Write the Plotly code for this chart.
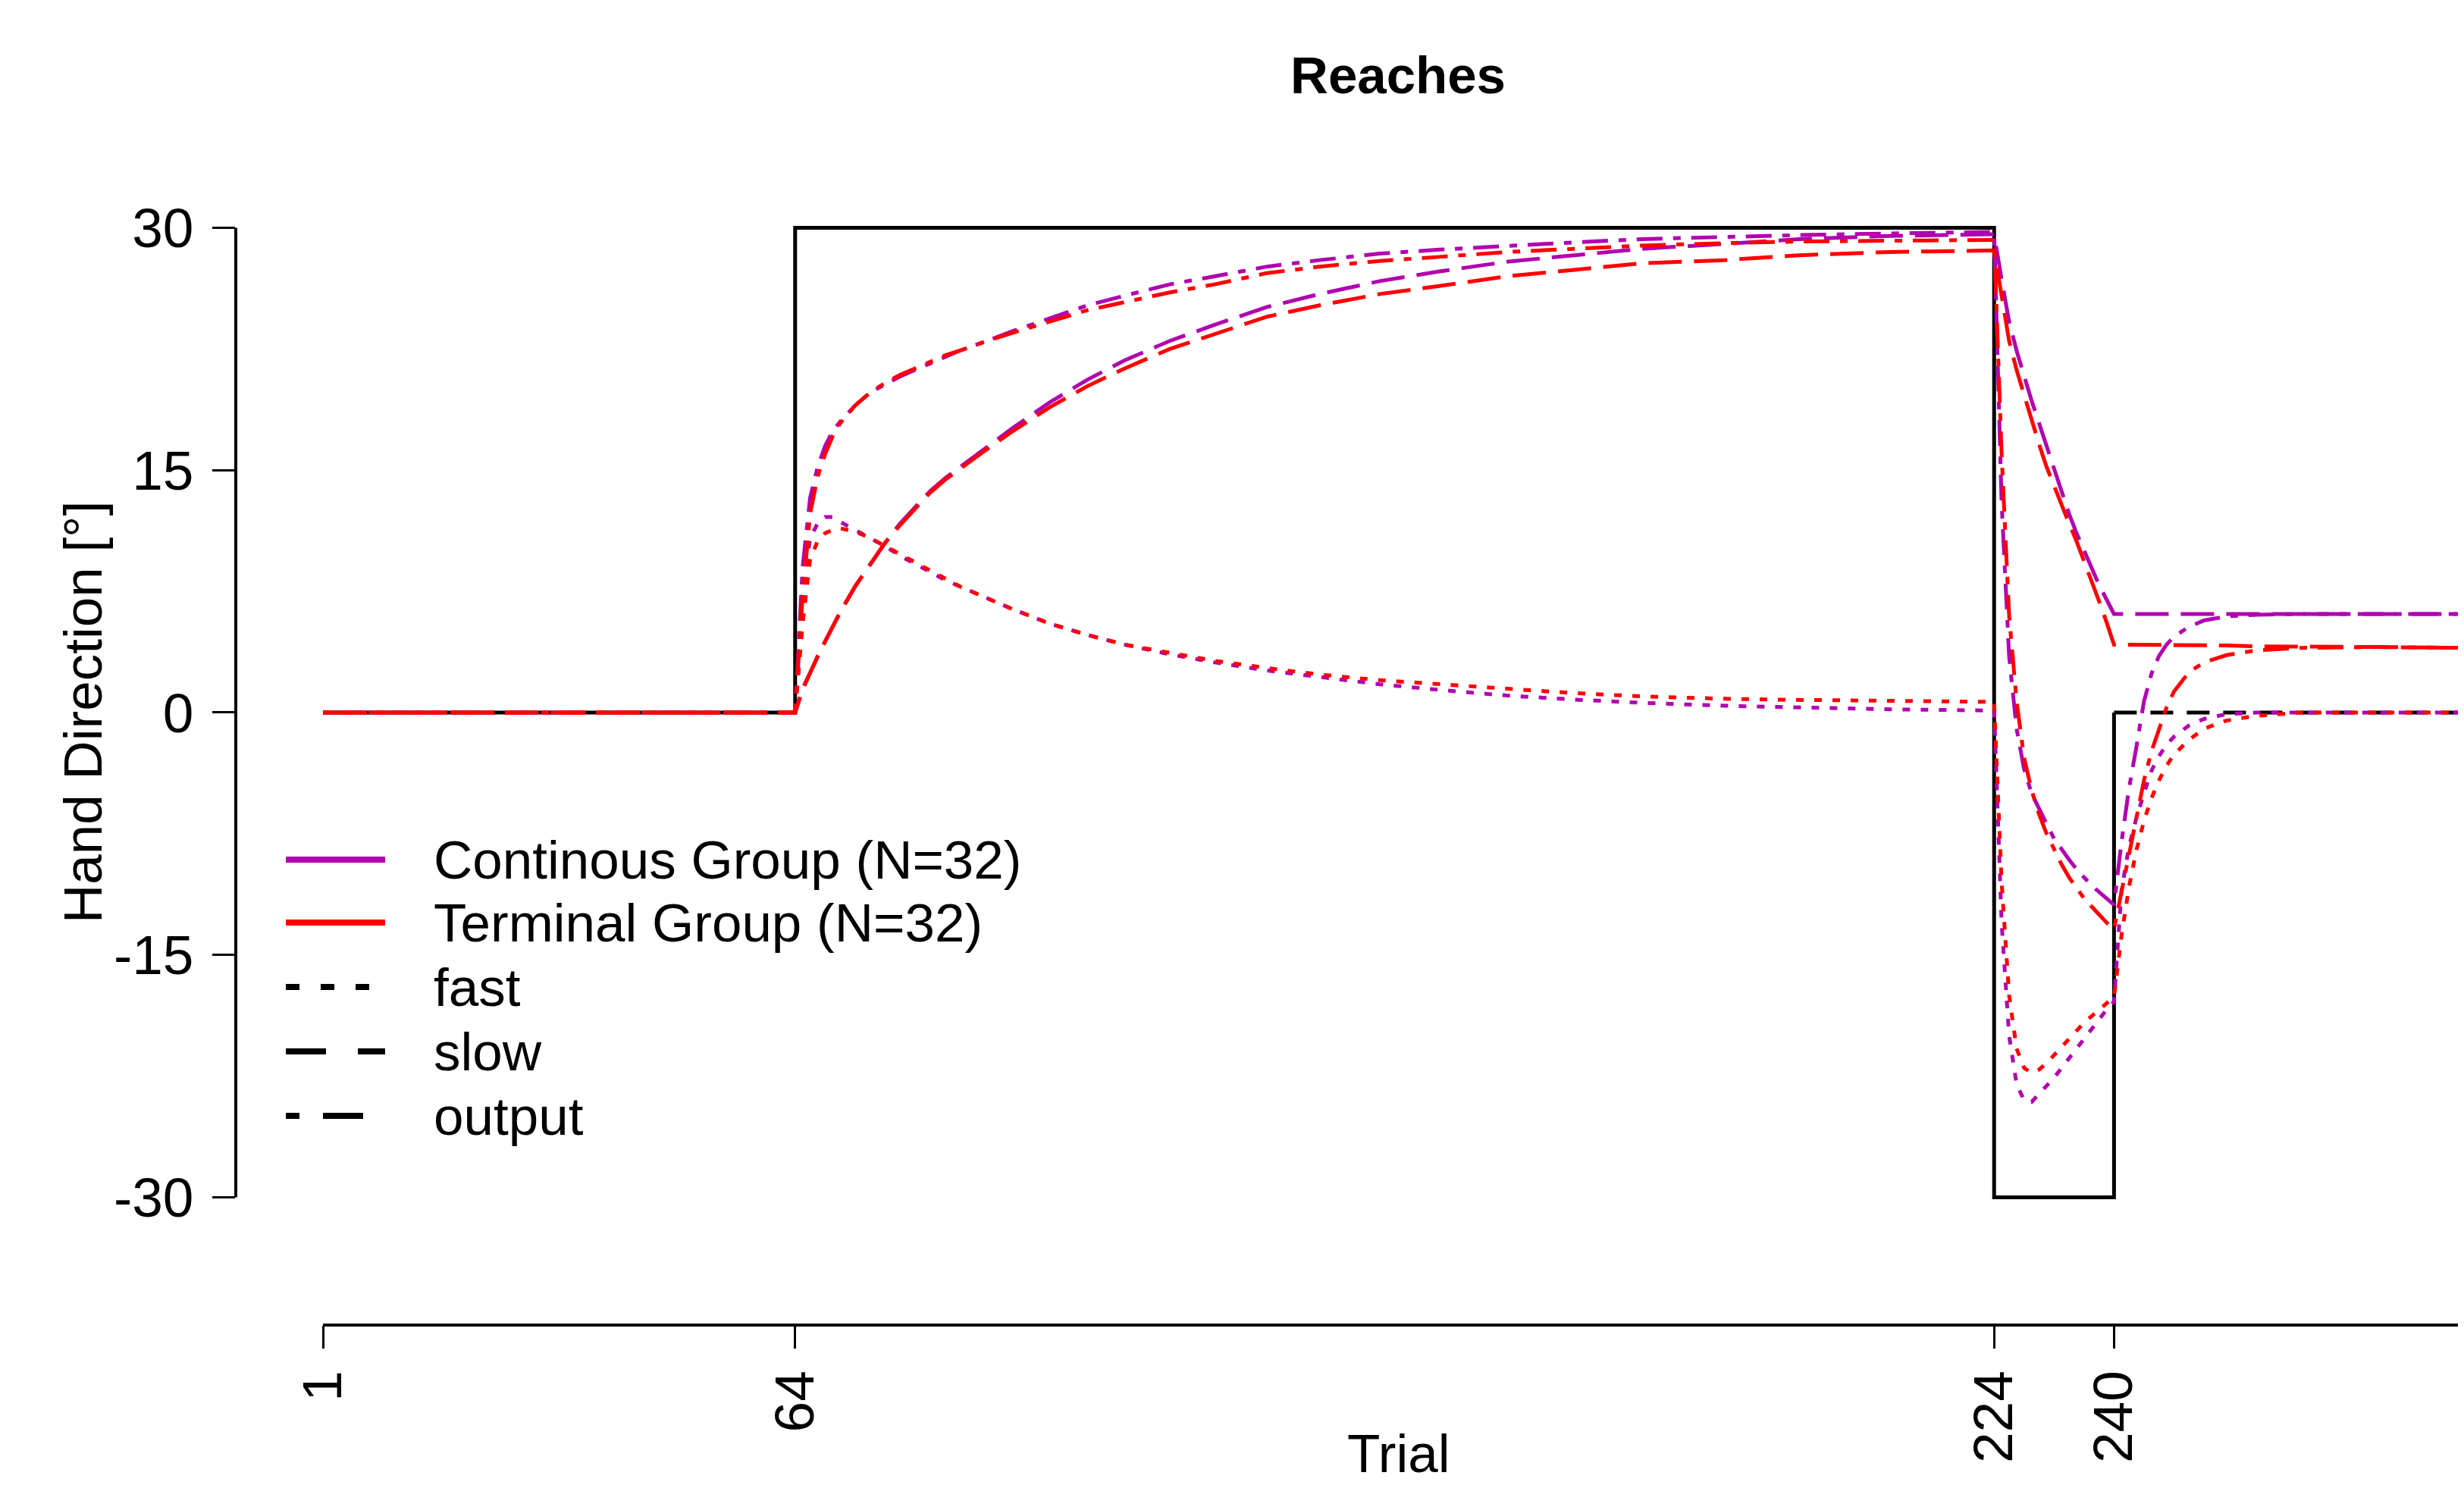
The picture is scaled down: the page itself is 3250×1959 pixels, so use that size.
import plotly.graph_objects as go

# ---------------- data ----------------
TRIALS = [1, 64, 65, 66, 67, 68, 69, 70, 72, 74, 76, 78, 80, 82, 84, 86, 89, 93, 98, 103,
          108, 114, 120, 127, 134, 142, 150, 159, 168, 177, 188, 198, 210, 224,
          225, 226, 227, 228, 229, 230, 231, 232, 233, 234, 235, 236, 237, 238, 239, 240,
          241, 242, 243, 244, 245, 246, 247, 248, 250, 252, 255, 259, 265, 275, 288]

CONT_FAST = [0, 0, 7.5, 10.8, 11.7, 12.1, 12.1, 11.8, 11.3, 10.8, 10.3, 9.7, 9.2, 8.7, 8.2, 7.8,
             7.2, 6.4, 5.5, 4.8, 4.2, 3.6, 3.1, 2.6, 2.2, 1.75, 1.4, 1.05, 0.8, 0.6, 0.42, 0.3,
             0.2, 0.12,
             -13.0, -20.0, -23.0, -24.0, -24.1, -23.6, -23.1, -22.6, -22.0, -21.4, -20.8, -20.2,
             -19.6, -19.0, -18.4, -17.9,
             -11.0, -8.3, -6.5, -5.0, -3.6, -2.7, -2.0, -1.5, -0.8, -0.4, -0.1, 0.0, 0.0, 0.0, 0.0]
TERM_FAST = [0, 0, 5.5, 9.5, 10.6, 11.1, 11.3, 11.4, 11.2, 10.8, 10.3, 9.8, 9.3, 8.8, 8.3, 7.8,
             7.2, 6.4, 5.5, 4.8, 4.2, 3.7, 3.2, 2.75, 2.35, 2.0, 1.75, 1.5, 1.2, 1.0, 0.85, 0.78,
             0.72, 0.66,
             -10.5, -17.5, -20.8, -22.0, -22.3, -22.1, -21.7, -21.2, -20.7, -20.2, -19.7, -19.2,
             -18.8, -18.4, -18.0, -17.6,
             -13.8, -10.8, -8.5, -6.7, -5.3, -4.2, -3.3, -2.6, -1.7, -1.0, -0.5, -0.2, 0.0, 0.0, 0.0]
CONT_SLOW = [0, 0, 1.5, 2.5, 3.5, 4.4, 5.3, 6.2, 7.8, 9.2, 10.5, 11.7, 12.7, 13.7, 14.5, 15.2,
             16.2, 17.6, 19.2, 20.6, 21.8, 23.0, 24.0, 25.1, 25.9, 26.7, 27.3, 27.9, 28.3, 28.7,
             29.0, 29.3, 29.5, 29.6,
             26.8, 24.2, 22.4, 20.8, 19.3, 17.9, 16.5, 15.0, 13.6, 12.3, 11.1, 10.0, 8.9, 7.9,
             7.0, 6.1,
             6.1, 6.1, 6.1, 6.1, 6.1, 6.1, 6.1, 6.1, 6.1, 6.1, 6.1, 6.1, 6.1, 6.1, 6.1]
TERM_SLOW = [0, 0, 1.4, 2.5, 3.5, 4.4, 5.3, 6.2, 7.8, 9.2, 10.5, 11.6, 12.6, 13.6, 14.4, 15.1,
             16.1, 17.4, 18.9, 20.2, 21.3, 22.5, 23.4, 24.5, 25.2, 25.9, 26.4, 27.0, 27.4, 27.8,
             28.0, 28.3, 28.5, 28.6,
             25.8, 23.0, 21.2, 19.6, 18.1, 16.6, 15.2, 14.0, 12.8, 11.7, 10.6, 9.4, 8.2, 6.9,
             5.6, 4.2,
             4.2, 4.2, 4.2, 4.2, 4.2, 4.2, 4.2, 4.2, 4.2, 4.15, 4.15, 4.1, 4.1, 4.05, 4.0]
CONT_OUT = [0, 0, 9.0, 13.3, 15.2, 16.5, 17.4, 18.0, 19.0, 19.8, 20.3, 20.8, 21.2, 21.6, 22.0,
            22.4, 22.9, 23.6, 24.4, 25.2, 25.8, 26.5, 27.0, 27.6, 28.0, 28.4, 28.65, 28.9, 29.1,
            29.3, 29.45, 29.55, 29.65, 29.75,
            13.0, 3.5, -1.0, -3.5, -5.0, -6.0, -6.9, -7.8, -8.5, -9.1, -9.7, -10.2, -10.7, -11.1,
            -11.5, -11.9,
            -8.0, -4.7, -2.1, 0.7, 2.4, 3.5, 4.2, 4.7, 5.3, 5.7, 5.95, 6.05, 6.1, 6.1, 6.1]
TERM_OUT = [0, 0, 7.2, 12.3, 14.6, 16.0, 17.1, 17.9, 19.0, 19.8, 20.4, 20.9, 21.3, 21.7, 22.1,
            22.4, 22.9, 23.5, 24.2, 24.9, 25.4, 26.0, 26.5, 27.2, 27.6, 27.95, 28.2, 28.5, 28.7,
            28.9, 29.05, 29.15, 29.2, 29.25,
            16.0, 6.0, 0.7, -2.8, -4.8, -6.3, -7.5, -8.5, -9.4, -10.2, -10.9, -11.5, -12.0, -12.5,
            -13.0, -13.4,
            -11.2, -8.8, -6.5, -4.2, -2.4, -1.0, 0.3, 1.3, 2.5, 3.1, 3.55, 3.85, 4.0, 4.05, 4.0]

SCHEDULE_TRIALS = [1, 64, 64, 224, 224, 240, 240]
SCHEDULE_VALUES = [0, 0, 30, 30, -30, -30, 0]
CLAMP_TRIALS = [240, 288]
CLAMP_VALUES = [0, 0]

X_TICKS = [1, 64, 224, 240, 288]
Y_TICKS = [-30, -15, 0, 15, 30]

GROUPS = ["Continous Group (N=32)", "Terminal Group (N=32)"]
PROCESSES = ["fast", "slow", "output"]

# ---------------- styles ----------------
PURPLE = "#B000B0"
RED = "#FF0000"
FONT = "Liberation Sans, Arial, Helvetica, sans-serif"
FS = 71
TICK_FS = 73
LW = 5
DASH = {"fast": "10px,14px", "slow": "44px,16px", "output": "10px,14px,34px,14px"}
LEGEND_DASH = {"fast": "18px,28px", "slow": "53px,42px", "output": "18px,31px,53px,40px"}

# page geometry (page pixels); the html body adds an 8px margin
OFF = 8
PAGE_W, PAGE_H = 3250, 1959
W, H = PAGE_W - OFF, PAGE_H - OFF
PLOT_LEFT, PLOT_TOP, PLOT_BOTTOM = 311, 200, 1748   # page px
ML, MR = PLOT_LEFT - OFF, 0
MT, MB = PLOT_TOP - OFF, H - (PLOT_BOTTOM - OFF)
PX_PER_TRIAL = 9.884
PX_TRIAL1 = 426.1          # page px of trial 1
PX_PER_DEG = 21.315
PX_ZERO = 939.95           # page px of 0 deg

x_lo = 1 - (PX_TRIAL1 - PLOT_LEFT) / PX_PER_TRIAL
x_hi = 1 + (PAGE_W - PX_TRIAL1) / PX_PER_TRIAL
y_lo = -(PLOT_BOTTOM - PX_ZERO) / PX_PER_DEG
y_hi = (PX_ZERO - PLOT_TOP) / PX_PER_DEG

plot_w = PAGE_W - PLOT_LEFT
plot_h = PLOT_BOTTOM - PLOT_TOP


def px_to_paper_x(px):
    return (px - PLOT_LEFT) / plot_w


def px_to_paper_y(py):
    return (PLOT_BOTTOM - py) / plot_h


fig = go.Figure()

# schedule
fig.add_trace(go.Scatter(x=SCHEDULE_TRIALS, y=SCHEDULE_VALUES, mode="lines",
                         line=dict(color="black", width=LW), showlegend=False,
                         name="schedule"))
fig.add_trace(go.Scatter(x=CLAMP_TRIALS, y=CLAMP_VALUES, mode="lines",
                         line=dict(color="black", width=LW, dash="30px,18px"),
                         showlegend=False, name="clamp"))

series = [
    (GROUPS[0], PURPLE, {"fast": CONT_FAST, "slow": CONT_SLOW, "output": CONT_OUT}),
    (GROUPS[1], RED, {"fast": TERM_FAST, "slow": TERM_SLOW, "output": TERM_OUT}),
]
for gname, color, vals in series:
    for proc in PROCESSES:
        fig.add_trace(go.Scatter(x=TRIALS, y=vals[proc], mode="lines",
                                 line=dict(color=color, width=LW, dash=DASH[proc]),
                                 name=f"{gname} {proc}", showlegend=False))

shapes = []
annotations = []

# axis lines (R style: only spanning the tick range)
shapes.append(dict(type="line", xref="paper", yref="y", x0=0, x1=0,
                   y0=Y_TICKS[0], y1=Y_TICKS[-1], line=dict(color="black", width=4)))
shapes.append(dict(type="line", xref="x", yref="paper", x0=X_TICKS[0], x1=X_TICKS[-1],
                   y0=0, y1=0, line=dict(color="black", width=4)))

# legend (drawn R style)
legend_rows_px = [1134, 1217, 1302, 1387, 1472]
legend_items = [
    (GROUPS[0], PURPLE, "solid"),
    (GROUPS[1], RED, "solid"),
    (PROCESSES[0], "black", LEGEND_DASH["fast"]),
    (PROCESSES[1], "black", LEGEND_DASH["slow"]),
    (PROCESSES[2], "black", LEGEND_DASH["output"]),
]
for (label, color, dash), py in zip(legend_items, legend_rows_px):
    yp = px_to_paper_y(py)
    shapes.append(dict(type="line", xref="paper", yref="paper",
                       x0=px_to_paper_x(377), x1=px_to_paper_x(508), y0=yp, y1=yp,
                       line=dict(color=color, width=8, dash=dash)))
    annotations.append(dict(text=label, xref="paper", yref="paper",
                            x=px_to_paper_x(570), y=yp, xanchor="left", yanchor="middle",
                            showarrow=False, font=dict(family=FONT, size=FS, color="black")))

# axis titles
annotations.append(dict(text="Hand Direction [°]", xref="paper", yref="y",
                        x=px_to_paper_x(110), y=0, textangle=-90, xanchor="center",
                        yanchor="middle", showarrow=False,
                        font=dict(family=FONT, size=FS, color="black")))
annotations.append(dict(text="Trial", xref="paper", yref="paper",
                        x=px_to_paper_x(1844), y=px_to_paper_y(1918), xanchor="center",
                        yanchor="middle", showarrow=False,
                        font=dict(family=FONT, size=FS, color="black")))

fig.update_layout(
    width=W, height=H,
    margin=dict(l=ML, r=MR, t=MT, b=MB, autoexpand=False),
    paper_bgcolor="white", plot_bgcolor="white",
    showlegend=False,
    title=dict(text="Reaches", x=(1844 - OFF) / W, xref="container", xanchor="center",
               y=1 - (99 - OFF) / H, yref="container", yanchor="middle",
               font=dict(family=FONT, size=69, color="black", weight="bold")),
    xaxis=dict(range=[x_lo, x_hi], showgrid=False, zeroline=False, showline=False,
               tickmode="array", tickvals=X_TICKS, ticktext=[str(t) for t in X_TICKS],
               ticks="outside", ticklen=30, tickwidth=2.5, tickcolor="black",
               tickangle=-90, ticklabelstandoff=0,
               tickfont=dict(family=FONT, size=TICK_FS, color="black")),
    yaxis=dict(range=[y_lo, y_hi], showgrid=False, zeroline=False, showline=False,
               tickmode="array", tickvals=Y_TICKS, ticktext=[str(t) for t in Y_TICKS],
               ticks="outside", ticklen=30, tickwidth=2.5, tickcolor="black",
               ticklabelstandoff=10,
               tickfont=dict(family=FONT, size=TICK_FS, color="black")),
    shapes=shapes,
    annotations=annotations,
)

fig.write_html("out.html")
